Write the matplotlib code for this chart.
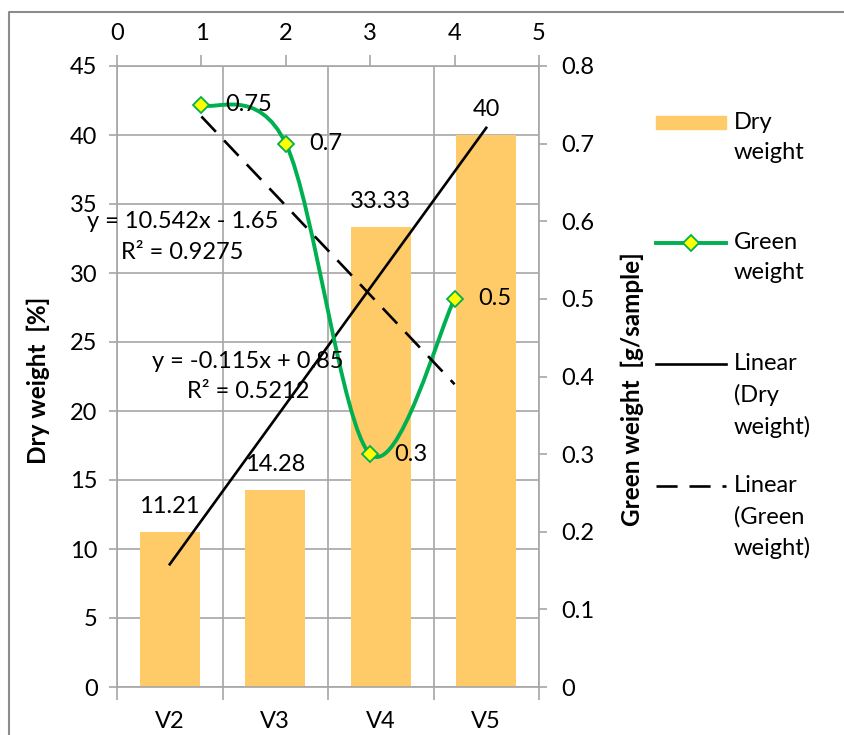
import numpy as np
import matplotlib.pyplot as plt
from matplotlib.path import Path
from matplotlib.patches import PathPatch, Rectangle
from matplotlib.lines import Line2D
from matplotlib.ticker import FormatStrFormatter

plt.rcParams['font.family'] = ['Lato', 'DejaVu Sans']

# data
categories = ['V2', 'V3', 'V4', 'V5']
dry_weight = [11.21, 14.28, 33.33, 40]
green_x = [1, 2, 3, 4]
green_weight = [0.75, 0.7, 0.3, 0.5]

BAR = '#FFCA68'
GREEN = '#00B050'
GRID = '#A6A6A6'
FS = 17

W, H = 844, 735
fig = plt.figure(figsize=(W / 100, H / 100), dpi=100)


def fx(px):
    return px / W


def fy(py):
    return 1 - py / H


left, right, top, bottom = 117, 539, 66, 687
rect = [fx(left), fy(bottom), (right - left) / W, (bottom - top) / H]
ax = fig.add_axes(rect, label='dry')
ax2 = fig.add_axes(rect, label='green', facecolor='none')

# primary axis: bars + dry trend line
x = np.arange(len(categories))
bars = ax.bar(x, dry_weight, width=0.57, color=BAR, zorder=2)
ax.bar_label(bars, labels=['%g' % v for v in dry_weight], padding=11, fontsize=FS)

xn = np.arange(1, len(dry_weight) + 1)


def fit(xv, yv):
    c = np.polyfit(xv, yv, 1)
    yv = np.asarray(yv, float)
    pred = np.polyval(c, xv)
    r2 = 1 - ((yv - pred) ** 2).sum() / ((yv - yv.mean()) ** 2).sum()
    return c, r2


def eq_text(c, r2):
    a, b = c
    sign = '+' if b >= 0 else '-'
    return 'y = %gx %s %g\nR² = %.4f' % (round(a, 4), sign, abs(round(b, 4)), r2)


c_dry, r2_dry = fit(xn, dry_weight)
ax.plot(x, np.polyval(c_dry, xn), color='black', lw=1.9, zorder=3)
ax.text(0.12, 32.6, eq_text(c_dry, r2_dry), ha='center', va='center',
        fontsize=FS, linespacing=1.55, zorder=4)

ax.set_xlim(-0.5, 3.5)
ax.set_ylim(0, 45)
ax.set_yticks(np.arange(0, 46, 5))
ax.set_xticks(x, categories)
ax.set_xticks(np.arange(-0.5, 4, 1), minor=True)
ax.tick_params(axis='x', which='major', length=0, pad=17, labelsize=FS)
ax.tick_params(axis='x', which='minor', length=9, color=GRID, width=1.2)
ax.tick_params(axis='y', length=6, color=GRID, width=1.2, pad=8, labelsize=FS)
ax.grid(axis='x', which='minor', color=GRID, lw=1.2)
ax.grid(axis='y', which='major', color=GRID, lw=1.2)
ax.set_axisbelow(True)
for s in ax.spines.values():
    s.set_color(GRID)
    s.set_linewidth(1.2)

# secondary axes: green weight
c_gr, r2_gr = fit(green_x, green_weight)
gx = np.array([green_x[0], green_x[-1]])
ax2.plot(gx, np.polyval(c_gr, gx), color='black', lw=1.9, dashes=(8, 4.5))
ax2.text(1.55, 0.40, eq_text(c_gr, r2_gr), ha='center', va='center',
         fontsize=FS, linespacing=1.55)

pts = np.column_stack([green_x, green_weight]).astype(float)
verts = [pts[0]]
codes = [Path.MOVETO]
n = len(pts)
for i in range(n - 1):
    p0 = pts[max(i - 1, 0)]
    p1 = pts[i]
    p2 = pts[i + 1]
    p3 = pts[min(i + 2, n - 1)]
    verts += [p1 + (p2 - p0) / 6, p2 - (p3 - p1) / 6, p2]
    codes += [Path.CURVE4] * 3
ax2.add_patch(PathPatch(Path(verts, codes), facecolor='none', edgecolor=GREEN,
                        lw=2.8, transform=ax2.transData))
ax2.plot(green_x, green_weight, ls='none', marker='D', ms=8.5, mfc='#FFFF00',
         mec=GREEN, mew=1.3)
for gxv, gyv in zip(green_x, green_weight):
    ax2.annotate('%g' % gyv, (gxv, gyv), xytext=(17, 0), textcoords='offset points',
                 va='center', ha='left', fontsize=FS)

ax2.set_xlim(0, 5)
ax2.set_ylim(0, 0.8)
ax2.set_xticks(range(6))
ax2.set_yticks(np.arange(0, 0.81, 0.1))
ax2.yaxis.set_major_formatter(FormatStrFormatter('%g'))
ax2.xaxis.tick_top()
ax2.yaxis.tick_right()
ax2.tick_params(axis='x', length=8, color=GRID, width=1.2, pad=8, labelsize=FS)
ax2.tick_params(axis='y', length=6, color=GRID, width=1.2, pad=10, labelsize=FS)
for s in ax2.spines.values():
    s.set_visible(False)

# axis titles
fig.text(fx(38), fy(380), 'Dry weight  [%]', rotation=90, ha='center', va='center',
         fontsize=17.5, fontweight='bold')
fig.text(fx(632), fy(389), 'Green weight  [g/sample]', rotation=90, ha='center',
         va='center', fontsize=17.5, fontweight='bold')

# legend
fig.add_artist(Rectangle((fx(656), fy(129)), fx(70), 13 / H, color=BAR,
                         transform=fig.transFigure))
fig.add_artist(Line2D([fx(656), fx(726)], [fy(243)] * 2, color=GREEN, lw=2.8,
                      transform=fig.transFigure))
fig.add_artist(Line2D([fx(691)], [fy(243)], ls='none', marker='D', ms=8.5,
                      mfc='#FFFF00', mec=GREEN, mew=1.3, transform=fig.transFigure))
fig.add_artist(Line2D([fx(656), fx(726)], [fy(364)] * 2, color='black', lw=1.9,
                      transform=fig.transFigure))
fig.add_artist(Line2D([fx(656), fx(726)], [fy(486)] * 2, color='black', lw=1.9,
                      dashes=(8, 4.5), transform=fig.transFigure))
leg_labels = ['Dry\nweight', 'Green\nweight', 'Linear\n(Dry\nweight)',
              'Linear\n(Green\nweight)']
leg_y = [123, 243, 364, 486]
for lab, ly in zip(leg_labels, leg_y):
    fig.text(fx(734), fy(ly - 11), lab, ha='left', va='top', fontsize=FS,
             linespacing=1.55)

# chart area border
fig.add_artist(Line2D([fx(9), fx(9), fx(W + 5)], [fy(H + 5), fy(12), fy(12)],
                      color='#8C8C8C', lw=1.5, transform=fig.transFigure))

fig.savefig('out.png', dpi=100)
